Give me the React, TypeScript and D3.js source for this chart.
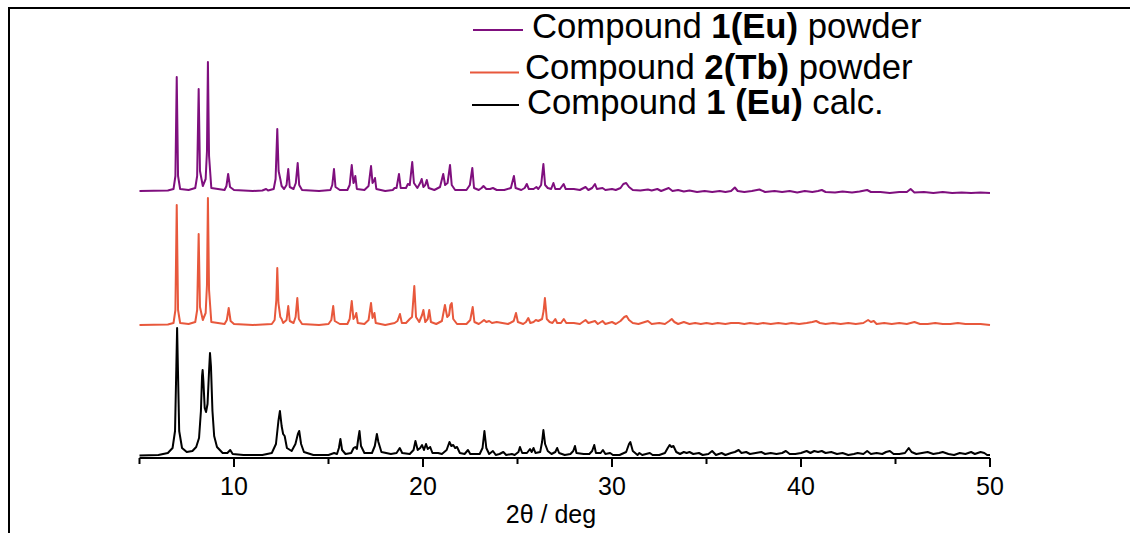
import React from "react";
import * as d3 from "d3";

// 2θ (deg) vs intensity above each trace's own baseline (a.u.)
const calcEu: [number, number][] = [
  [5.0, 0.5], [6.0, 1], [6.5, 3], [6.75, 8], [6.88, 25], [6.95, 90], [6.99, 128], [7.03, 90], [7.1, 25], [7.25, 8], [7.5, 4],
  [7.8, 5], [8.0, 9], [8.15, 18], [8.25, 45], [8.31, 80], [8.34, 86], [8.38, 75], [8.45, 48], [8.52, 44], [8.6, 52],
  [8.68, 85], [8.73, 103], [8.78, 90], [8.86, 45], [8.95, 20], [9.1, 9], [9.4, 3], [9.65, 3], [9.8, 6], [9.93, 2],
  [10.5, 1], [11.5, 1], [12.0, 3], [12.22, 12], [12.35, 35],
  [12.43, 45], [12.52, 30], [12.6, 22], [12.68, 20], [12.8, 8], [13.05, 5], [13.25, 12], [13.38, 22], [13.45, 25], [13.55, 12],
  [13.7, 4], [14.2, 1], [15.0, 1], [15.3, 3], [15.45, 2], [15.55, 8], [15.63, 17], [15.72, 6], [15.9, 2], [16.2, 3], [16.33, 8],
  [16.42, 9], [16.5, 7], [16.58, 18], [16.64, 25], [16.72, 10], [16.9, 3], [17.3, 3], [17.45, 10], [17.56, 22], [17.64, 14],
  [17.8, 4], [18.3, 2], [18.6, 3], [18.77, 8], [18.9, 3], [19.3, 2], [19.5, 6], [19.6, 15], [19.72, 6], [19.85, 8], [19.95, 11],
  [20.05, 6], [20.16, 12], [20.25, 7], [20.38, 9], [20.5, 3], [20.8, 3], [21.0, 2], [21.25, 6], [21.4, 14], [21.5, 10],
  [21.6, 11], [21.7, 8], [21.8, 9], [21.95, 3], [22.2, 2], [22.38, 6], [22.5, 2], [23.0, 2], [23.15, 8], [23.25, 25],
  [23.35, 8], [23.5, 2], [23.7, 5], [23.85, 1], [24.05, 2], [24.25, 4], [24.4, 1], [24.7, 2], [24.85, 1], [25.05, 4],
  [25.13, 9], [25.25, 3], [25.5, 3], [25.66, 7], [25.75, 4], [25.85, 8], [25.95, 3], [26.2, 4], [26.3, 14], [26.37, 26],
  [26.46, 12], [26.6, 5], [26.8, 2], [27.0, 4], [27.1, 8], [27.2, 3], [27.5, 1], [27.8, 2], [27.95, 5], [28.04, 10],
  [28.12, 3], [28.5, 2], [28.8, 2], [28.95, 5], [29.06, 11], [29.15, 3], [29.4, 3], [29.52, 6], [29.65, 2], [29.9, 3],
  [30.05, 1], [30.4, 1], [30.75, 4], [30.9, 12], [30.97, 14], [31.1, 5], [31.35, 1], [31.45, 3], [31.6, 1], [32.0, 3],
  [32.15, 1], [32.5, 1], [32.8, 3], [32.95, 8], [33.05, 11], [33.15, 9], [33.25, 10], [33.4, 4], [33.6, 2], [33.8, 4],
  [33.95, 3], [34.1, 4], [34.3, 2], [34.6, 3], [34.8, 1], [35.1, 2], [35.3, 5], [35.5, 1], [35.8, 3], [36.0, 1], [36.3, 3],
  [36.5, 4], [36.7, 6], [36.85, 3], [37.1, 4], [37.3, 2], [37.6, 3], [37.9, 4], [38.1, 2], [38.4, 3], [38.7, 2], [39.0, 3],
  [39.2, 5], [39.4, 2], [39.7, 2], [40.0, 3], [40.3, 5], [40.5, 3], [40.7, 5], [40.9, 4], [41.1, 5], [41.3, 3], [41.6, 4],
  [41.9, 2], [42.2, 3], [42.5, 1], [42.8, 2], [43.0, 3], [43.3, 2], [43.5, 5], [43.7, 2], [44.0, 3], [44.3, 2], [44.5, 4],
  [44.7, 5], [44.9, 2], [45.2, 2], [45.5, 3], [45.7, 8], [45.85, 4], [46.1, 2], [46.4, 3], [46.7, 4], [47.0, 2], [47.3, 3],
  [47.5, 4], [47.8, 2], [48.1, 1], [48.4, 3], [48.7, 2], [49.0, 4], [49.2, 2], [49.5, 4], [49.7, 3], [49.85, 1], [50.0, 1],
];

const powderTb: [number, number][] = [
  [5.0, 0], [6.5, 0.5], [6.8, 2], [6.9, 15], [6.97, 120], [7.04, 15], [7.15, 2], [7.6, 1], [7.95, 3], [8.05, 15], [8.13, 91],
  [8.2, 18], [8.35, 5], [8.5, 12], [8.57, 40], [8.62, 127], [8.68, 35], [8.8, 3], [9.5, 1], [9.62, 5], [9.72, 17], [9.82, 4],
  [10.0, 1], [11.0, 0], [12.0, 1], [12.15, 5], [12.24, 25], [12.29, 57], [12.35, 22], [12.45, 8], [12.52, 6], [12.6, 2],
  [12.78, 5], [12.87, 19], [12.95, 4], [13.15, 2], [13.26, 8], [13.35, 27], [13.43, 6], [13.6, 1], [14.5, 0], [15.0, 1],
  [15.15, 5], [15.25, 19], [15.33, 4], [15.6, 1], [16.0, 1], [16.12, 6], [16.23, 24], [16.32, 6], [16.4, 8], [16.47, 12],
  [16.55, 2], [16.9, 1], [17.12, 5], [17.25, 22], [17.33, 7], [17.43, 12], [17.5, 2], [18.0, 0], [18.5, 2], [18.65, 4],
  [18.78, 11], [18.88, 2], [19.1, 2], [19.3, 6], [19.42, 8], [19.54, 39], [19.63, 8], [19.8, 3], [19.95, 10], [20.02, 15],
  [20.12, 3], [20.25, 6], [20.33, 15], [20.42, 3], [20.7, 1], [21.0, 4], [21.16, 20], [21.28, 8], [21.38, 10], [21.45, 20],
  [21.52, 22], [21.6, 6], [21.8, 1], [22.3, 1], [22.5, 5], [22.63, 18], [22.72, 3], [22.95, 1], [23.1, 3], [23.23, 5],
  [23.35, 3], [23.5, 4], [23.65, 2], [23.9, 3], [24.2, 2], [24.5, 1], [24.8, 4], [24.92, 12], [25.02, 3], [25.3, 1],
  [25.45, 3], [25.57, 7], [25.68, 2], [25.85, 3], [25.97, 5], [26.1, 4], [26.3, 6], [26.38, 14], [26.45, 27], [26.55, 6],
  [26.7, 3], [26.85, 2], [27.0, 6], [27.1, 2], [27.3, 2], [27.45, 6], [27.58, 2], [27.98, 2], [28.3, 1], [28.6, 5],
  [28.75, 2], [29.1, 4], [29.25, 1], [29.5, 4], [29.65, 1], [30.0, 3], [30.2, 1], [30.45, 4], [30.65, 8], [30.77, 9],
  [30.9, 5], [31.1, 2], [31.4, 1], [31.9, 4], [32.1, 1], [32.5, 2], [32.8, 1], [33.03, 4], [33.16, 6], [33.3, 3], [33.5, 1],
  [33.8, 3], [34.1, 1], [34.4, 2], [34.7, 1], [35.0, 2], [35.3, 1], [35.6, 2], [36.0, 1], [36.3, 2], [36.7, 2], [37.0, 1],
  [37.3, 2], [37.7, 1], [38.0, 2], [38.4, 1], [38.8, 2], [39.2, 1], [39.5, 2], [39.9, 1], [40.3, 2], [40.6, 3], [40.8, 4],
  [41.0, 2], [41.3, 1], [41.7, 2], [42.1, 1], [42.5, 2], [42.9, 1], [43.3, 2], [43.55, 5], [43.7, 3], [43.85, 4], [44.0, 1],
  [44.4, 2], [44.8, 1], [45.2, 2], [45.6, 1], [46.0, 3], [46.3, 1], [46.7, 1], [47.1, 2], [47.5, 1], [47.9, 1], [48.3, 2],
  [48.7, 1], [49.1, 1], [49.5, 1], [50.0, 0],
];

const powderEu: [number, number][] = [
  [5.0, 0], [6.5, 0.5], [6.8, 2], [6.9, 15], [6.97, 114], [7.04, 15], [7.15, 2], [7.6, 1], [7.95, 3], [8.05, 15], [8.13, 102],
  [8.2, 20], [8.35, 5], [8.5, 12], [8.57, 40], [8.62, 129], [8.68, 35], [8.8, 3], [9.5, 1], [9.6, 5], [9.69, 17], [9.79, 4],
  [10.0, 1], [11.0, 0], [11.5, 0.5], [11.7, 2], [11.8, 0.5], [12.1, 2], [12.2, 12], [12.29, 62], [12.36, 20], [12.45, 12],
  [12.52, 5], [12.65, 2], [12.78, 6], [12.87, 22], [12.95, 4], [13.15, 2], [13.27, 8], [13.37, 28], [13.45, 6], [13.6, 1],
  [14.5, 0], [15.1, 1], [15.2, 6], [15.29, 22], [15.37, 4], [15.6, 1], [16.0, 1], [16.12, 6], [16.23, 26], [16.32, 8],
  [16.37, 10], [16.42, 15], [16.5, 2], [16.9, 1], [17.12, 5], [17.25, 25], [17.33, 8], [17.4, 10], [17.46, 13], [17.53, 2],
  [18.0, 0], [18.4, 1], [18.5, 3], [18.6, 3], [18.73, 17], [18.82, 3], [19.1, 3], [19.2, 7], [19.3, 6], [19.43, 29],
  [19.52, 8], [19.7, 3], [19.85, 8], [19.93, 12], [20.02, 4], [20.12, 6], [20.2, 11], [20.3, 3], [20.6, 1], [20.9, 4],
  [21.07, 17], [21.17, 6], [21.3, 8], [21.43, 26], [21.52, 6], [21.7, 1], [22.3, 1], [22.48, 6], [22.61, 23], [22.7, 3],
  [22.95, 1], [23.1, 3], [23.2, 5], [23.35, 2], [23.55, 2], [23.7, 3], [23.9, 1], [24.3, 1], [24.65, 3], [24.81, 15],
  [24.9, 3], [25.2, 1], [25.38, 3], [25.49, 7], [25.6, 2], [25.85, 2], [26.0, 4], [26.1, 2], [26.25, 6], [26.37, 27],
  [26.46, 6], [26.6, 3], [26.78, 2], [26.9, 8], [27.0, 2], [27.25, 2], [27.44, 7], [27.55, 2], [27.98, 2], [28.3, 1],
  [28.6, 4], [28.75, 1], [28.95, 3], [29.1, 7], [29.2, 2], [29.5, 3], [29.65, 1], [30.0, 2], [30.2, 1], [30.45, 3],
  [30.6, 7], [30.75, 8], [30.9, 4], [31.1, 1], [31.5, 0.5], [31.9, 1.5], [32.1, 0.5], [32.4, 2], [32.6, 0], [33.0, 3],
  [33.2, 0], [33.5, 1], [33.8, -0.5], [34.1, 0.5], [34.5, -1], [34.9, 0], [35.3, -1], [35.7, 0], [36.0, -1], [36.3, 0],
  [36.5, 3.5], [36.65, 0], [37.0, -1], [37.4, 0], [37.8, 1.5], [38.1, -1], [38.6, 0], [39.0, -1], [39.4, 0], [39.8, -1.5],
  [40.2, 0], [40.6, -1], [40.9, 0], [41.1, 1], [41.3, -1], [41.8, -1.5], [42.2, -0.5], [42.7, -1.5], [43.1, -0.5], [43.5, 1],
  [43.7, -1], [44.2, -1], [44.7, -2], [45.2, -1], [45.6, -1], [45.8, 2], [46.0, -1.5], [46.5, -1], [47.0, -2], [47.5, -1],
  [48.0, -2], [48.5, -1.5], [49.0, -2], [49.5, -1.5], [50.0, -2],
];

const seriesNames = ["Compound 1(Eu) powder", "Compound 2(Tb) powder", "Compound 1 (Eu) calc."];
const seriesOffsets = [267, 133, 2];
const majorTicks = [10, 20, 30, 40, 50];
const minorTicks = [5, 15, 25, 35, 45];
const xLabel = "2θ / deg";

const COLORS = ["#7f0f7e", "#e8583c", "#000000"];
const FONT = "'Liberation Sans', Arial, Helvetica, sans-serif";

export default function App() {
  const x = d3.scaleLinear().domain([5, 50]).range([139.5, 990]);
  const y = d3.scaleLinear().domain([0, 400]).range([458, 58]);
  const data = [powderEu, powderTb, calcEu];

  const makeLine = (off: number) =>
    d3
      .line<[number, number]>()
      .x((d) => x(d[0]))
      .y((d) => y(d[1] + off))
      .curve(d3.curveLinear);

  const legendRows = [
    { y: 37.5, tx: 532, lx1: 473, lx2: 523, ly: 30, parts: [["Compound ", false], ["1(Eu)", true], [" powder", false]] },
    { y: 79, tx: 525, lx1: 470, lx2: 519, ly: 72.5, parts: [["Compound ", false], ["2(Tb)", true], [" powder", false]] },
    { y: 113.5, tx: 527, lx1: 472, lx2: 519, ly: 105, parts: [["Compound ", false], ["1 (Eu)", true], [" calc.", false]] },
  ];

  return (
    <svg
      width={1130}
      height={533}
      style={{ position: "absolute", left: 0, top: 0, background: "#fff" }}
      fontFamily={FONT}
    >
      <rect x={0} y={0} width={1130} height={533} fill="#fff" />
      {/* frame */}
      <rect x={9} y={8} width={1200} height={600} fill="none" stroke="#000" strokeWidth={2} />

      {/* traces */}
      {data.map((d, i) => (
        <path
          key={i}
          d={makeLine(seriesOffsets[i])(d) || ""}
          fill="none"
          stroke={COLORS[i]}
          strokeWidth={2}
          strokeLinejoin="round"
        />
      ))}

      {/* x axis */}
      <line x1={x(5)} x2={x(50)} y1={458} y2={458} stroke="#000" strokeWidth={2} />
      {majorTicks.map((t) => (
        <g key={"M" + t}>
          <line x1={x(t)} x2={x(t)} y1={458} y2={467} stroke="#000" strokeWidth={2} />
          <text x={x(t)} y={495} textAnchor="middle" fontSize={25} fill="#000">
            {t}
          </text>
        </g>
      ))}
      {minorTicks.map((t) => (
        <line key={"m" + t} x1={x(t)} x2={x(t)} y1={458} y2={464} stroke="#000" strokeWidth={2} />
      ))}
      <text x={551} y={523} textAnchor="middle" fontSize={25} fill="#000">
        {xLabel}
      </text>

      {/* legend */}
      {legendRows.map((r, i) => (
        <g key={"lg" + i}>
          <line x1={r.lx1} x2={r.lx2} y1={r.ly} y2={r.ly} stroke={COLORS[i]} strokeWidth={2} />
          <text x={r.tx} y={r.y} fontSize={34.7} fill="#000" aria-label={seriesNames[i]}>
            {r.parts.map((p, j) => (
              <tspan key={j} fontWeight={p[1] ? "bold" : "normal"}>
                {p[0] as string}
              </tspan>
            ))}
          </text>
        </g>
      ))}
    </svg>
  );
}
